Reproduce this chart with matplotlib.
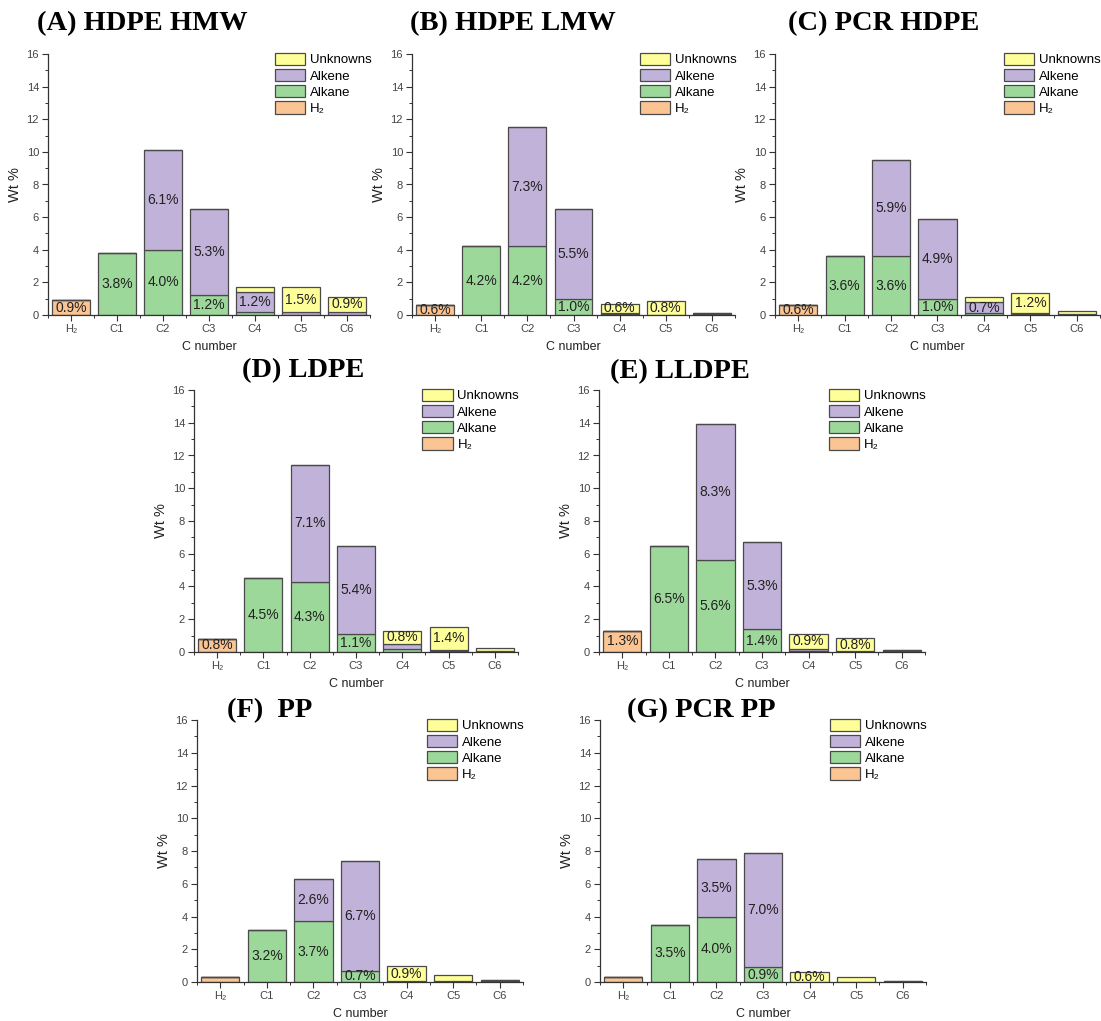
import matplotlib
matplotlib.use("Agg")
import matplotlib.pyplot as plt
from matplotlib.patches import Patch
from matplotlib.ticker import MultipleLocator

plt.rcParams['font.family'] = ['Liberation Sans', 'DejaVu Sans']

# categories on the x axis
carbons = ['H₂', 'C1', 'C2', 'C3', 'C4', 'C5', 'C6']

# wt % per fraction, one list per sample (order follows carbons)
hmw_h2 = [0.9, 0, 0, 0, 0, 0, 0]
hmw_alkane = [0, 3.8, 4.0, 1.2, 0.2, 0.0, 0.0]
hmw_alkene = [0, 0, 6.1, 5.3, 1.2, 0.2, 0.2]
hmw_unknown = [0, 0, 0, 0, 0.3, 1.5, 0.9]

lmw_h2 = [0.6, 0, 0, 0, 0, 0, 0]
lmw_alkane = [0, 4.2, 4.2, 1.0, 0.05, 0.0, 0.04]
lmw_alkene = [0, 0, 7.3, 5.5, 0.05, 0.03, 0.06]
lmw_unknown = [0, 0, 0, 0, 0.6, 0.8, 0.0]

pcr_hdpe_h2 = [0.6, 0, 0, 0, 0, 0, 0]
pcr_hdpe_alkane = [0, 3.6, 3.6, 1.0, 0.1, 0.05, 0.0]
pcr_hdpe_alkene = [0, 0, 5.9, 4.9, 0.7, 0.1, 0.05]
pcr_hdpe_unknown = [0, 0, 0, 0, 0.3, 1.2, 0.2]

ldpe_h2 = [0.8, 0, 0, 0, 0, 0, 0]
ldpe_alkane = [0, 4.5, 4.3, 1.1, 0.2, 0.05, 0.02]
ldpe_alkene = [0, 0, 7.1, 5.4, 0.3, 0.1, 0.05]
ldpe_unknown = [0, 0, 0, 0, 0.8, 1.4, 0.2]

lldpe_h2 = [1.3, 0, 0, 0, 0, 0, 0]
lldpe_alkane = [0, 6.5, 5.6, 1.4, 0.05, 0.0, 0.05]
lldpe_alkene = [0, 0, 8.3, 5.3, 0.15, 0.05, 0.08]
lldpe_unknown = [0, 0, 0, 0, 0.9, 0.8, 0.0]

pp_h2 = [0.3, 0, 0, 0, 0, 0, 0]
pp_alkane = [0, 3.2, 3.7, 0.7, 0.0, 0.0, 0.05]
pp_alkene = [0, 0, 2.6, 6.7, 0.05, 0.05, 0.05]
pp_unknown = [0, 0, 0, 0, 0.9, 0.4, 0.0]

pcr_pp_h2 = [0.3, 0, 0, 0, 0, 0, 0]
pcr_pp_alkane = [0, 3.5, 4.0, 0.9, 0.0, 0.0, 0.02]
pcr_pp_alkene = [0, 0, 3.5, 7.0, 0.02, 0.0, 0.03]
pcr_pp_unknown = [0, 0, 0, 0, 0.6, 0.3, 0.0]

titles = ['(A) HDPE HMW', '(B) HDPE LMW', '(C) PCR HDPE', '(D) LDPE',
          '(E) LLDPE', '(F)  PP', '(G) PCR PP']

colors = {'H₂': '#fbc493', 'Alkane': '#9dd89b', 'Alkene': '#c0b2d8',
          'Unknowns': '#ffff99'}
edge = '#4a4a4a'

W, H = 1101, 1021
fig = plt.figure(figsize=(W / 100, H / 100), dpi=100)


def px_axes(left, right, top, bottom):
    return fig.add_axes([left / W, 1 - bottom / H, (right - left) / W, (bottom - top) / H])


def draw_panel(ax, h2, alkane, alkene, unknown):
    x = range(len(carbons))
    base = [0] * len(carbons)
    for name, vals in [('H₂', h2), ('Alkane', alkane), ('Alkene', alkene),
                       ('Unknowns', unknown)]:
        ax.bar(x, vals, 0.82, bottom=base, color=colors[name],
               edgecolor=edge, linewidth=0.9)
        for i, v in enumerate(vals):
            if v >= 0.5:
                ax.text(i, base[i] + v / 2, f'{v:.1f}%', ha='center', va='center',
                        fontsize=10, color='#222222')
        base = [b + v for b, v in zip(base, vals)]

    ax.set_xlim(-0.5, 6.5)
    ax.set_ylim(0, 16)
    ax.set_xticks(list(x))
    ax.set_xticklabels(carbons)
    ax.xaxis.set_minor_locator(MultipleLocator(0.5))
    ax.yaxis.set_major_locator(MultipleLocator(2))
    ax.yaxis.set_minor_locator(MultipleLocator(1))
    for s in ['top', 'right']:
        ax.spines[s].set_visible(False)
    for s in ['left', 'bottom']:
        ax.spines[s].set_color('#333333')
        ax.spines[s].set_linewidth(0.9)
    ax.tick_params(which='major', length=4, width=0.8, color='#333333',
                   labelsize=8, labelcolor='#444444', pad=2.5)
    ax.tick_params(which='minor', length=2, width=0.7, color='#333333')
    ax.set_ylabel('Wt %', fontsize=10.5, color='#222222')
    ax.set_xlabel('C number', fontsize=9, color='#222222')
    ax.yaxis.set_label_coords(-0.08, 0.5)
    ax.xaxis.set_label_coords(0.5, -0.10)

    handles = [Patch(facecolor=colors[k], edgecolor=edge, linewidth=0.9)
               for k in ['Unknowns', 'Alkene', 'Alkane', 'H₂']]
    ax.legend(handles, ['Unknowns', 'Alkene', 'Alkane', 'H₂'], loc='upper left',
              bbox_to_anchor=(0.705, 1.005), frameon=False, fontsize=9.5,
              handlelength=2.3, handleheight=1.05, labelspacing=0.2,
              handletextpad=0.35, borderpad=0, borderaxespad=0)


panels = [
    ((48, 370, 54, 315), (hmw_h2, hmw_alkane, hmw_alkene, hmw_unknown), (37, 24)),
    ((412, 735, 54, 315), (lmw_h2, lmw_alkane, lmw_alkene, lmw_unknown), (410, 24)),
    ((775, 1100, 54, 315), (pcr_hdpe_h2, pcr_hdpe_alkane, pcr_hdpe_alkene, pcr_hdpe_unknown), (788, 24)),
    ((194, 518, 390, 652), (ldpe_h2, ldpe_alkane, ldpe_alkene, ldpe_unknown), (242, 371)),
    ((599, 925, 390, 652), (lldpe_h2, lldpe_alkane, lldpe_alkene, lldpe_unknown), (610, 372)),
    ((197, 523, 720, 982), (pp_h2, pp_alkane, pp_alkene, pp_unknown), (227, 711)),
    ((600, 926, 720, 982), (pcr_pp_h2, pcr_pp_alkane, pcr_pp_alkene, pcr_pp_unknown), (627, 711)),
]

for (box, data, tpos), title in zip(panels, titles):
    ax = px_axes(*box)
    draw_panel(ax, *data)
    fig.text(tpos[0] / W, 1 - tpos[1] / H, title, ha='left', va='center',
             fontsize=20.5, fontweight='bold', family='Liberation Serif')

fig.savefig('out.png', dpi=100)
